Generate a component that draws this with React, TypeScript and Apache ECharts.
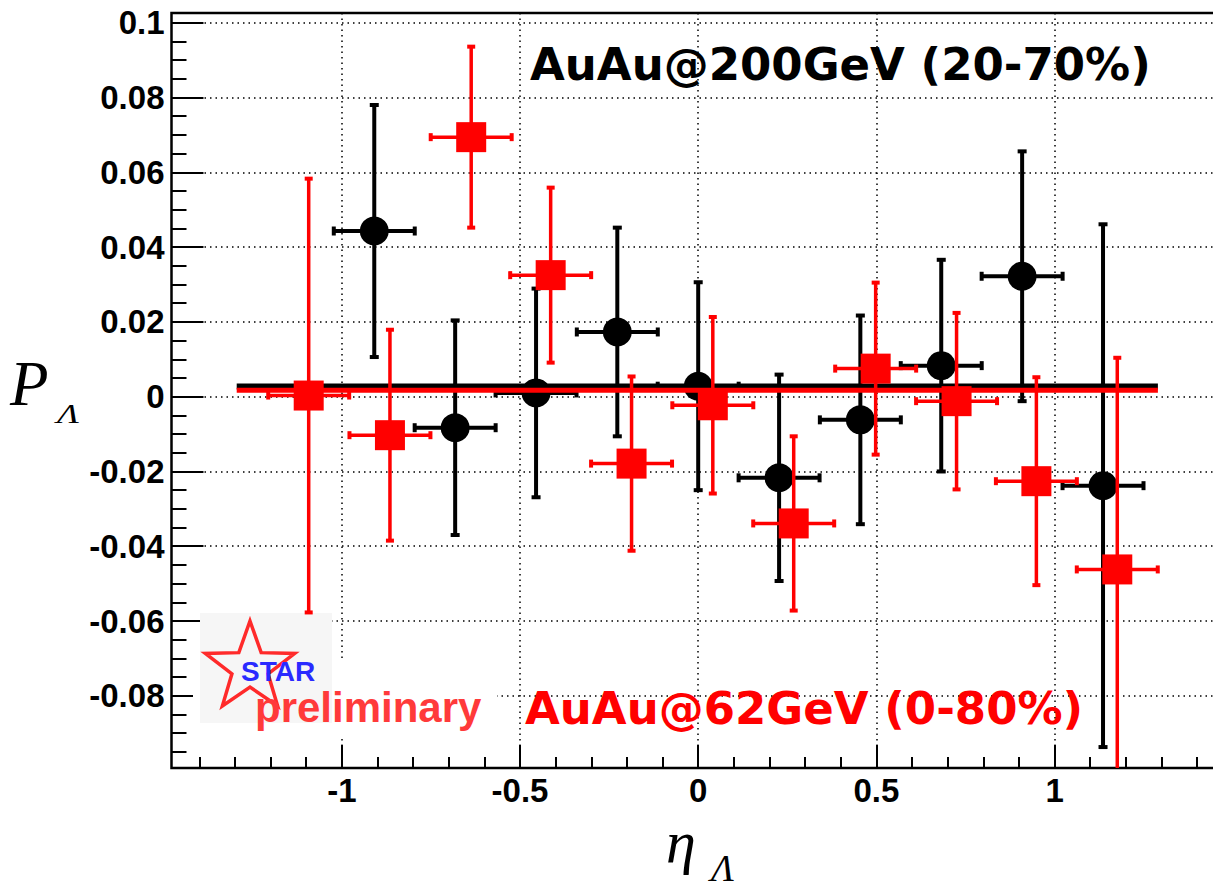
import React, { useEffect, useRef } from "react";
import * as echarts from "echarts";

// ---- data ----
const etaBlack = [-0.909, -0.682, -0.455, -0.227, 0.0, 0.227, 0.455, 0.682, 0.909, 1.136];
const pBlack = [0.0443, -0.0083, 0.001, 0.0173, 0.0028, -0.0217, -0.0062, 0.0083, 0.0322, -0.0238];
const errBlack = [0.0337, 0.0287, 0.0279, 0.0279, 0.0278, 0.0276, 0.0279, 0.0283, 0.0334, 0.0699];

const etaRed = [-1.093, -0.865, -0.637, -0.414, -0.187, 0.041, 0.268, 0.498, 0.725, 0.949, 1.176];
const pRed = [0.0003, -0.0103, 0.0694, 0.0325, -0.0179, -0.0023, -0.0339, 0.0075, -0.0012, -0.0226, -0.0462];
const errRed = [0.058, 0.0282, 0.0242, 0.0234, 0.0233, 0.0236, 0.0233, 0.023, 0.0236, 0.0278, 0.0566];

const etaHalfWidth = 0.1136;

const fitBlack = 0.0027;
const fitRed = 0.0017;
const fitRange = [-1.295, 1.29];

const xMin = -1.478;
const xMax = 1.478;
const yMin = -0.0993;
const yMax = 0.1026;

const xMajor = [-1, -0.5, 0, 0.5, 1];
const xMinor = [-1.4, -1.3, -1.2, -1.1, -0.9, -0.8, -0.7, -0.6, -0.4, -0.3, -0.2, -0.1, 0.1, 0.2, 0.3, 0.4, 0.6, 0.7, 0.8, 0.9, 1.1, 1.2, 1.3, 1.4];
const yMajor = [-0.08, -0.06, -0.04, -0.02, 0, 0.02, 0.04, 0.06, 0.08, 0.1];
const yMinor = [-0.095, -0.09, -0.085, -0.075, -0.07, -0.065, -0.055, -0.05, -0.045, -0.035, -0.03, -0.025, -0.015, -0.01, -0.005, 0.005, 0.01, 0.015, 0.025, 0.03, 0.035, 0.045, 0.05, 0.055, 0.065, 0.07, 0.075, 0.085, 0.09, 0.095];

const titleTop = "AuAu@200GeV (20-70%)";
const titleBottom = "AuAu@62GeV (0-80%)";

function makeErrRender(color: string, lw: number, capW: number, capT: number) {
  return (params: any, api: any) => {
    const x = api.value(0);
    const y = api.value(1);
    const e = api.value(2);
    const dx = api.value(3);
    const top = api.coord([x, y + e]);
    const bot = api.coord([x, y - e]);
    const l = api.coord([x - dx, y]);
    const r = api.coord([x + dx, y]);
    const st = { stroke: color, lineWidth: lw };
    const cs = { stroke: color, lineWidth: capT };
    return {
      type: "group",
      children: [
        { type: "line", shape: { x1: top[0], y1: top[1], x2: bot[0], y2: bot[1] }, style: st },
        { type: "line", shape: { x1: l[0], y1: l[1], x2: r[0], y2: r[1] }, style: st },
        { type: "line", shape: { x1: top[0] - capW / 2, y1: top[1], x2: top[0] + capW / 2, y2: top[1] }, style: cs },
        { type: "line", shape: { x1: bot[0] - capW / 2, y1: bot[1], x2: bot[0] + capW / 2, y2: bot[1] }, style: cs },
        { type: "line", shape: { x1: l[0], y1: l[1] - capW / 2, x2: l[0], y2: l[1] + capW / 2 }, style: cs },
        { type: "line", shape: { x1: r[0], y1: r[1] - capW / 2, x2: r[0], y2: r[1] + capW / 2 }, style: cs },
      ],
    };
  };
}

function starPoints(cx: number, cy: number, R: number, r: number) {
  const pts: number[][] = [];
  for (let i = 0; i < 10; i++) {
    const a = -Math.PI / 2 + (i * Math.PI) / 5;
    const rad = i % 2 === 0 ? R : r;
    pts.push([cx + rad * Math.cos(a), cy + rad * Math.sin(a)]);
  }
  return pts;
}

export default function App() {
  const ref = useRef<HTMLDivElement>(null);
  useEffect(() => {
    if (!ref.current) return;
    const chart = echarts.init(ref.current, undefined, { renderer: "svg" });
    const labelFont = {
      fontFamily: "Liberation Sans, Arial, sans-serif",
      fontWeight: "bold" as const,
      fontSize: 33,
      color: "#000",
    };
    const dotted = { color: "#000", width: 1.5, type: [1.5, 4] as any };
    const noLine = { show: false, onZero: false };
    const option: any = {
      animation: false,
      backgroundColor: "#fff",
      grid: {
        left: 171.5,
        top: 13,
        width: 1053.4,
        height: 755,
        show: true,
        borderColor: "#000",
        borderWidth: 2.5,
        backgroundColor: "transparent",
      },
      xAxis: [
        {
          type: "value",
          min: xMin,
          max: xMax,
          position: "bottom",
          axisLine: noLine,
          axisTick: { show: true, inside: true, length: 23, customValues: xMajor, lineStyle: { color: "#000", width: 2 } },
          axisLabel: { show: true, customValues: xMajor, margin: 6, ...labelFont },
          splitLine: { show: true, lineStyle: dotted },
        },
        {
          type: "value",
          min: xMin,
          max: xMax,
          position: "bottom",
          axisLine: noLine,
          axisTick: { show: true, inside: true, length: 11, customValues: xMinor, lineStyle: { color: "#000", width: 2 } },
          axisLabel: { show: false },
          splitLine: { show: false },
        },
      ],
      yAxis: [
        {
          type: "value",
          min: yMin,
          max: yMax,
          position: "left",
          axisLine: noLine,
          axisTick: { show: true, inside: true, length: 32, customValues: yMajor, lineStyle: { color: "#000", width: 2 } },
          axisLabel: { show: true, customValues: yMajor, margin: 7, ...labelFont },
          splitLine: { show: true, lineStyle: dotted },
        },
        {
          type: "value",
          min: yMin,
          max: yMax,
          position: "left",
          axisLine: noLine,
          axisTick: { show: true, inside: true, length: 15, customValues: yMinor, lineStyle: { color: "#000", width: 2 } },
          axisLabel: { show: false },
          splitLine: { show: false },
        },
      ],
      series: [
        {
          type: "custom",
          name: "200GeV errors",
          xAxisIndex: 0,
          yAxisIndex: 0,
          clip: true,
          z: 3,
          renderItem: makeErrRender("#000", 4, 9, 4),
          data: etaBlack.map((e, i) => [e, pBlack[i], errBlack[i], etaHalfWidth]),
        },
        {
          type: "scatter",
          name: "AuAu 200GeV",
          z: 4,
          symbol: "circle",
          symbolSize: 29,
          itemStyle: { color: "#000", opacity: 1 },
          data: etaBlack.map((e, i) => [e, pBlack[i]]),
        },
        {
          type: "line",
          name: "fit 200GeV",
          z: 5,
          showSymbol: false,
          symbol: "none",
          lineStyle: { color: "#000", width: 6 },
          data: [
            [fitRange[0], fitBlack],
            [fitRange[1], fitBlack],
          ],
        },
        {
          type: "line",
          name: "fit 62GeV",
          z: 6,
          showSymbol: false,
          symbol: "none",
          lineStyle: { color: "#ff0000", width: 5 },
          data: [
            [fitRange[0], fitRed],
            [fitRange[1], fitRed],
          ],
        },
        {
          type: "custom",
          name: "62GeV errors",
          clip: true,
          z: 7,
          renderItem: makeErrRender("#ff0000", 3.5, 8, 4),
          data: etaRed.map((e, i) => [e, pRed[i], errRed[i], etaHalfWidth]),
        },
        {
          type: "scatter",
          name: "AuAu 62GeV",
          z: 8,
          symbol: "rect",
          symbolSize: 30,
          itemStyle: { color: "#ff0000", opacity: 1 },
          data: etaRed.map((e, i) => [e, pRed[i]]),
        },
      ],
      graphic: [
        { type: "rect", z: 1, shape: { x: 193, y: 662, width: 304, height: 77 }, style: { fill: "#ffffff" } },
        { type: "rect", z: 1, shape: { x: 200, y: 613, width: 132, height: 110 }, style: { fill: "#f6f6f6" } },
        {
          type: "polygon",
          z: 20,
          shape: { points: starPoints(250, 668, 47, 19) },
          style: { fill: "none", stroke: "#ff2a2a", lineWidth: 3.5, lineJoin: "miter" },
        },
        {
          type: "text",
          z: 21,
          x: 241,
          y: 671,
          style: { text: "STAR", fill: "#2a2aff", font: "bold 28px 'Liberation Sans', Arial, sans-serif", lineHeight: 20, align: "left", verticalAlign: "middle" },
        },
        {
          type: "text",
          z: 21,
          x: 255,
          y: 707,
          style: { text: "preliminary", fill: "#ff3a3a", font: "bold 42px 'Liberation Sans', Arial, sans-serif", lineHeight: 30, align: "left", verticalAlign: "middle" },
        },
        {
          type: "text",
          z: 21,
          x: 530,
          y: 64,
          style: { text: titleTop, fill: "#000", font: "bold 45px 'DejaVu Sans', Verdana, sans-serif", align: "left", verticalAlign: "middle" },
        },
        {
          type: "text",
          z: 21,
          x: 525,
          y: 708,
          style: { text: titleBottom, fill: "#ff0000", font: "bold 45px 'DejaVu Sans', Verdana, sans-serif", align: "left", verticalAlign: "middle" },
        },
        {
          type: "text",
          z: 21,
          x: 10,
          y: 384,
          style: { text: "P", fill: "#000", font: "italic 63px 'Liberation Serif', 'Times New Roman', serif", align: "left", verticalAlign: "middle" },
        },
        {
          type: "text",
          z: 21,
          x: 57,
          y: 414,
          scaleX: 1.35,
          style: { text: "Λ", fill: "#000", font: "italic 27px 'Liberation Serif', 'Times New Roman', serif", align: "left", verticalAlign: "middle" },
        },
        {
          type: "text",
          z: 21,
          x: 666,
          y: 842,
          style: { text: "η", fill: "#000", font: "italic 60px 'Liberation Serif', 'Times New Roman', serif", align: "left", verticalAlign: "middle" },
        },
        {
          type: "text",
          z: 21,
          x: 711,
          y: 868,
          style: { text: "Λ", fill: "#000", font: "italic 38px 'Liberation Serif', 'Times New Roman', serif", lineHeight: 30, align: "left", verticalAlign: "middle" },
        },
      ],
    };
    chart.setOption(option);
    return () => chart.dispose();
  }, []);
  return (
    <div style={{ position: "absolute", left: 0, top: 0, width: 1213, height: 891, overflow: "hidden", background: "#fff" }}>
      <div ref={ref} style={{ width: 1240, height: 891 }} />
    </div>
  );
}
